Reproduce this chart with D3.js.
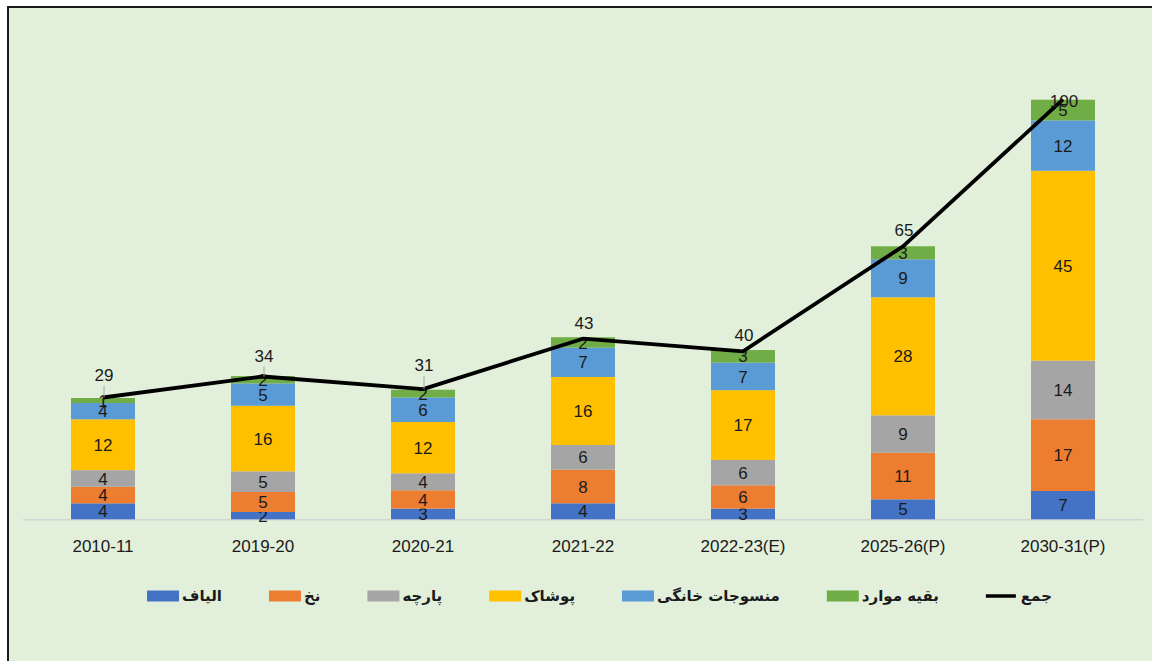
<!DOCTYPE html>
<html lang="fa">
<head>
<meta charset="UTF-8">
<title>chart</title>
<style>
  html, body { margin: 0; padding: 0; background: #fff; }
  svg { display: block; }
</style>
</head>
<body>
<script src="https://cdn.jsdelivr.net/npm/d3@7"></script>
<script>
// سال ها
var years = ['2010-11', '2019-20', '2020-21', '2021-22', '2022-23(E)', '2025-26(P)', '2030-31(P)'];
// سری ها (از پایین به بالا)
var seriesNames = ['الیاف', 'نخ', 'پارچه', 'پوشاک', 'منسوجات خانگی', 'بقیه موارد'];
var fiber    = [3.8, 1.74, 2.55, 3.81, 2.55, 4.76, 6.74];
var yarn     = [3.95, 4.76, 4.36, 8.0, 5.55, 11.1, 17.07];
var fabric   = [3.96, 4.93, 4.05, 5.88, 6.05, 8.9, 13.98];
var apparel  = [12.1, 15.6, 12.2, 16.2, 16.6, 28.1, 45.2];
var homeText = [3.87, 5.33, 5.86, 6.98, 6.55, 9.05, 11.98];
var others   = [1.2, 1.74, 1.83, 2.48, 3.0, 3.1, 4.93];
var totalName = 'جمع';
var totals   = [29, 34, 31, 43, 40, 65, 100];

// ظاهر
var colors = ['#4472C4', '#ED7D31', '#A5A5A5', '#FFC000', '#5B9BD5', '#70AD47'];
var totalLabelDy = [-23, -21, -24, -16, -16, -16, 2];

var W = 1152, H = 661;
var base = 519.3, plotLeft = 23, plotRight = 1143;

var svg = d3.select('body').append('svg').attr('width', W).attr('height', H);

// پس زمینه و قاب
svg.append('rect').attr('x', 8).attr('y', 7).attr('width', W + 20).attr('height', H + 20)
  .attr('fill', '#E2EFDA').attr('stroke', '#1a1a1a').attr('stroke-width', 2);

var x = d3.scaleBand().domain(years).range([plotLeft, plotRight]).paddingInner(0.6).paddingOuter(0.3);
var y = d3.scaleLinear().domain([0, 120]).range([base, base - 504]);

var rows = years.map(function (yr, i) {
  return { year: yr, s0: fiber[i], s1: yarn[i], s2: fabric[i], s3: apparel[i], s4: homeText[i], s5: others[i] };
});
var keys = ['s0', 's1', 's2', 's3', 's4', 's5'];
var stacked = d3.stack().keys(keys)(rows);

// محور افقی
svg.append('line').attr('x1', plotLeft).attr('x2', plotRight).attr('y1', base + 0.5).attr('y2', base + 0.5)
  .attr('stroke', '#d4d4d4').attr('stroke-width', 1.5);

var layers = svg.selectAll('g.layer').data(stacked).enter().append('g').attr('class', 'layer')
  .attr('fill', function (d, i) { return colors[i]; });

layers.selectAll('rect').data(function (d) { return d; }).enter().append('rect')
  .attr('x', function (d) { return x(d.data.year); })
  .attr('width', x.bandwidth())
  .attr('y', function (d) { return y(d[1]); })
  .attr('height', function (d) { return y(d[0]) - y(d[1]); });

var labelFont = '"Liberation Sans", Arial, sans-serif';

layers.selectAll('text').data(function (d) { return d; }).enter().append('text')
  .attr('x', function (d) { return x(d.data.year) + x.bandwidth() / 2; })
  .attr('y', function (d) { return (y(d[0]) + y(d[1])) / 2; })
  .attr('dy', '0.36em')
  .attr('text-anchor', 'middle')
  .attr('font-family', labelFont).attr('font-size', 17).attr('fill', '#1a1a1a')
  .text(function (d) { return Math.round(d[1] - d[0]); });

// خط جمع
var cx = function (i) { return x(years[i]) + x.bandwidth() / 2; };
var line = d3.line().x(function (d, i) { return cx(i); }).y(function (d) { return y(d); });
svg.append('path').datum(totals).attr('d', line).attr('fill', 'none')
  .attr('stroke', '#000').attr('stroke-width', 3.8).attr('stroke-linejoin', 'round');

// برچسب های جمع
totals.forEach(function (v, i) {
  var py = y(v), ly = py + totalLabelDy[i];
  if (totalLabelDy[i] < -18) {
    svg.append('line').attr('x1', cx(i) + 1).attr('x2', cx(i) + 1).attr('y1', ly + 11).attr('y2', py)
      .attr('stroke', '#a6a6a6').attr('stroke-width', 1);
  }
  svg.append('text').attr('x', cx(i) + 1).attr('y', ly).attr('dy', '0.36em')
    .attr('text-anchor', 'middle').attr('font-family', labelFont).attr('font-size', 17).attr('fill', '#1a1a1a')
    .text(v);
});

// برچسب های محور
svg.selectAll('text.cat').data(years).enter().append('text').attr('class', 'cat')
  .attr('x', function (d) { return x(d) + x.bandwidth() / 2; })
  .attr('y', 551.5)
  .attr('text-anchor', 'middle').attr('font-family', labelFont).attr('font-size', 17).attr('fill', '#1a1a1a')
  .text(function (d) { return d; });

// راهنما (از راست به چپ)
var legendItems = seriesNames.map(function (n, i) { return { name: n, color: colors[i], type: 'rect' }; });
legendItems.push({ name: totalName, color: '#000', type: 'line' });
var lg = svg.append('g');
var lx = 147, ly = 596;
legendItems.forEach(function (it) {
  if (it.type === 'rect') {
    lg.append('rect').attr('x', lx).attr('y', ly - 5.5).attr('width', 32).attr('height', 11).attr('fill', it.color);
  } else {
    lg.append('line').attr('x1', lx).attr('x2', lx + 30).attr('y1', ly).attr('y2', ly)
      .attr('stroke', '#000').attr('stroke-width', 3.5);
  }
  var t = lg.append('text').attr('x', lx + 35).attr('y', ly).attr('dy', '0.35em')
    .attr('font-family', '"DejaVu Sans", sans-serif').attr('font-weight', 'bold').attr('font-size', 15)
    .attr('fill', '#1a1a1a').text(it.name);
  lx += 35 + t.node().getComputedTextLength() + 47;
});
</script>
</body>
</html>
